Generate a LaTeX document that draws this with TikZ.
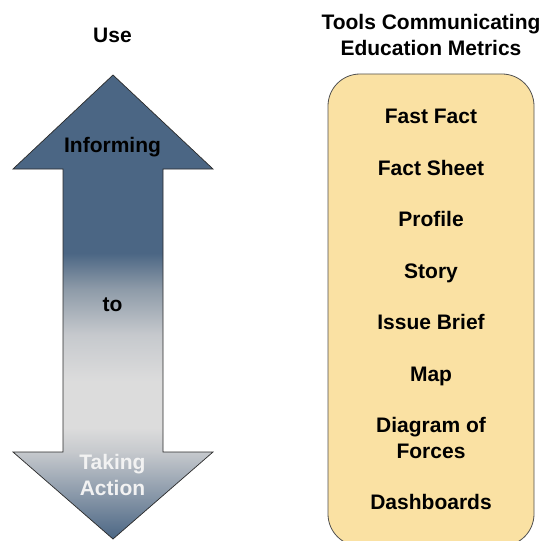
\documentclass[tikz,border=0pt]{standalone}
\usepackage{fontspec}
\setmainfont{Liberation Sans}
\usepackage{xcolor}
\usepackage{tikz}
\usetikzlibrary{positioning}

\definecolor{arrowdark}{HTML}{4B6684}
\definecolor{arrowmid}{HTML}{8D9AA8}
\definecolor{arrowpale}{HTML}{C6C9CD}
\definecolor{arrowlight}{HTML}{DCDCDC}
\definecolor{arrowedge}{HTML}{2A2A2A}
\definecolor{boxfill}{HTML}{FAE1A3}
\definecolor{boxedge}{HTML}{505050}
\definecolor{lighttext}{HTML}{F2F2F2}

% shading of the double arrow, from its bottom tip up to its top tip
\pgfdeclareverticalshading{usearrowshade}{100bp}{%
  color(0bp)=(arrowdark); color(25bp)=(arrowdark);
  color(34.4bp)=(arrowpale); color(37bp)=(arrowlight);
  color(42bp)=(arrowlight); color(47bp)=(arrowpale);
  color(52bp)=(arrowmid); color(55.8bp)=(arrowdark);
  color(75bp)=(arrowdark); color(100bp)=(arrowdark)}

\begin{document}
\begin{tikzpicture}[
    x=1pt, y=-1pt,
    node distance=51.6pt,
    heading/.style={font=\bfseries\fontsize{21}{25.6}\selectfont, align=center, anchor=base, inner sep=0pt},
    tool/.style={heading},
    arrowline/.style={draw=arrowedge, line width=0.7pt},
    toolbox/.style={draw=boxedge, line width=0.8pt, fill=boxfill, rounded corners=32pt,
                    minimum width=206pt, minimum height=472pt, inner sep=0pt}
]
    \clip (0,0) rectangle (545,540);

    % Headings (base of a two-line node is its last line)
    \node[heading] (use) at (112.5,42.7) {Use};
    \node[heading] (tools) at (431,55.6) {Tools Communicating\\Education Metrics};

    % Double arrow
    \shade[arrowline, shading=usearrowshade]
        (113,75) -- (213,169) -- (163,169) -- (163,452) -- (213,452)
        -- (113,539) -- (13,452) -- (63,452) -- (63,169) -- (13,169) -- cycle;
    \node[heading] (informing) at (112.5,153) {Informing};
    \node[heading] (tolabel) at (112.5,311.7) {to};
    \node[heading, text=lighttext] (taking) at (112.5,495) {Taking\\Action};

    % Box of tools
    \node[toolbox] (metricsbox) at (431,310) {};
    \node[tool] (fastfact) at (431,123.5) {Fast Fact};
    \node[tool, below=of fastfact.base, anchor=base] (factsheet) {Fact Sheet};
    \node[tool, below=of factsheet.base, anchor=base] (profile) {Profile};
    \node[tool, below=of profile.base, anchor=base] (story) {Story};
    \node[tool, below=of story.base, anchor=base] (issuebrief) {Issue Brief};
    \node[tool, below=of issuebrief.base, anchor=base] (map) {Map};
    \node[tool, below=76.8pt of map.base, anchor=base] (diagram) {Diagram of\\Forces};
    \node[tool, below=51pt of diagram.base, anchor=base] (dashboards) {Dashboards};
\end{tikzpicture}
\end{document}
